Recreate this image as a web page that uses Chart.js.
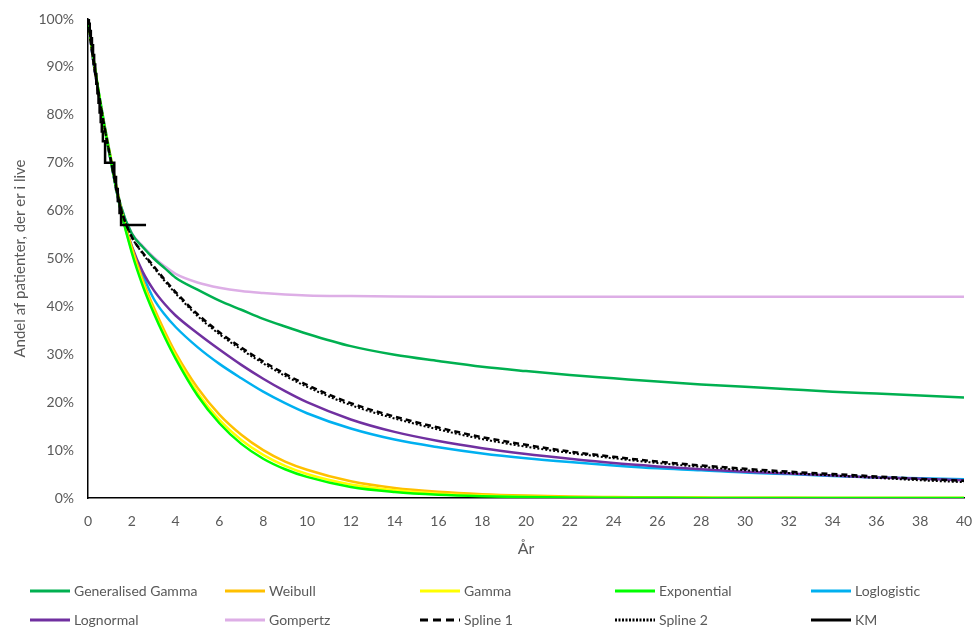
<!DOCTYPE html>
<html><head><meta charset="utf-8">
<script src="https://cdn.jsdelivr.net/npm/chart.js@4/dist/chart.umd.min.js"></script>
<style>
html,body{margin:0;padding:0;background:#fff;}
#wrap{position:relative;width:976px;height:630px;overflow:hidden;}
#c{position:absolute;left:0;top:0;}
.lgi{position:absolute;height:20px;font-family:Lato,'Open Sans',sans-serif;font-size:14px;color:#595959;white-space:nowrap;}
.lgi svg{position:absolute;left:0;top:0;}
.lgi span{position:absolute;top:1px;line-height:18px;}
</style></head><body>
<div id="wrap"><canvas id="c" width="976" height="630"></canvas><div id="legend"></div></div>
<script>
// ---- Data ----
const years = [0,0.25,0.5,0.75,1,1.5,2,2.5,3,3.5,4,5,6,7,8,9,10,12,14,16,18,20,22,24,26,28,30,32,34,36,38,40];
const genGamma    = [100,91.5,84.5,78,72,61,55.2,52.4,50,48,46,43.5,41.2,39.3,37.4,35.8,34.3,31.7,29.9,28.6,27.4,26.5,25.7,25.0,24.3,23.7,23.2,22.7,22.2,21.8,21.4,21.0];
const weibull     = [100,91.5,84,77.5,71.8,60.5,52.3,45.5,39.8,34.8,30.3,23.0,17.4,13.2,10.0,7.6,5.9,3.5,2.1,1.3,0.8,0.5,0.3,0.2,0.12,0.08,0.05,0.03,0.02,0.01,0.01,0.0];
const gamma       = [100,91.7,84.2,77.5,71.7,60.2,51.6,44.8,39.0,34.0,29.6,22.0,16.3,12.1,9.0,6.7,5.0,2.8,1.6,0.9,0.5,0.28,0.16,0.1,0.05,0.03,0.02,0.01,0.01,0,0,0];
const exponential = [100,91.8,84.3,77.5,71.5,60,51.2,44.3,38.6,33.6,29.1,21.4,15.6,11.3,8.2,6.0,4.4,2.3,1.25,0.67,0.36,0.19,0.1,0.05,0.03,0.02,0.01,0,0,0,0,0];
const loglogistic = [100,91,84,77.5,71.3,60,52.3,46.5,41.6,38.3,35.7,31.5,28.0,25.0,22.2,19.8,17.7,14.5,12.2,10.6,9.3,8.3,7.5,6.8,6.2,5.8,5.3,5.0,4.6,4.3,4.1,3.9];
const lognormal   = [100,91,84,77.5,71.3,60,52.6,47.2,43.4,40.5,38.1,34.4,31.0,27.8,24.9,22.3,20.0,16.4,13.8,11.9,10.4,9.2,8.2,7.3,6.6,6.0,5.5,5.1,4.7,4.3,4.0,3.7];
const gompertz    = [100,91,84,77.5,71.5,61,55.3,52.6,50.3,48.4,46.8,45.0,43.9,43.2,42.8,42.5,42.3,42.15,42.05,42,42,42,42,42,42,42,42,42,42,42,42,42];
const spline1     = [100,91,84,77.5,71.5,60.5,54.5,51.2,48.4,45.6,43.0,38.4,34.6,31.4,28.5,25.9,23.6,19.8,17.0,14.7,12.7,11.1,9.7,8.6,7.6,6.8,6.1,5.5,5.0,4.5,4.0,3.6];
const spline2     = [100,91,84,77.5,71.5,60.5,54.5,51.0,48.1,45.3,42.7,38.0,34.2,31.0,28.1,25.5,23.2,19.4,16.6,14.3,12.3,10.7,9.4,8.3,7.3,6.5,5.8,5.2,4.7,4.2,3.7,3.3];
const kmTime = [0,0.04,0.08,0.13,0.18,0.23,0.28,0.33,0.38,0.43,0.48,0.53,0.58,0.63,0.68,0.78,1.2,1.28,1.36,1.44,1.51,2.65];
const kmSurv = [100,99,97.5,96,94.5,92.5,90.5,88.5,86.5,84.5,82.5,80.5,78.5,76.5,74.5,70,67,64.5,62,59.5,57,57];
const seriesNames = ['Generalised Gamma','Weibull','Gamma','Exponential','Loglogistic','Lognormal','Gompertz','Spline 1','Spline 2','KM'];
const xTicks = [0,2,4,6,8,10,12,14,16,18,20,22,24,26,28,30,32,34,36,38,40];
const yTicks = [0,10,20,30,40,50,60,70,80,90,100];

// ---- Styles ----
const seriesValues = [genGamma,weibull,gamma,exponential,loglogistic,lognormal,gompertz,spline1,spline2];
const colors = ['#00B050','#FFC000','#FFFF00','#00FF00','#00B0F0','#7030A0','#DDAEE6','#000000','#000000','#000000'];
const dashes = [[],[],[],[],[],[],[],[6,4],[2,2],[]];
const widths = [2.5,2.5,2.5,2.5,2.5,2.5,2.5,2.5,2,2.5];
const orders = [8,6,5,4,7,6,9,2,1,0];
const FONT = "Lato, 'Open Sans', sans-serif";

const datasets = seriesValues.map((vals,i)=>({
  label: seriesNames[i],
  data: years.map((x,j)=>({x:x,y:vals[j]})),
  borderColor: colors[i], backgroundColor: colors[i],
  borderWidth: widths[i], borderDash: dashes[i],
  pointRadius: 0, cubicInterpolationMode:'monotone', fill:false, order: orders[i]
}));
datasets.push({
  label: seriesNames[9],
  data: kmTime.map((x,j)=>({x:x,y:kmSurv[j]})),
  borderColor: colors[9], borderWidth: widths[9], pointRadius:0, stepped:true, fill:false, order: orders[9]
});

new Chart(document.getElementById('c'), {
  type:'line',
  data:{datasets},
  options:{
    responsive:false, animation:false,
    layout:{padding:{top:19,right:12,bottom:60,left:0}},
    plugins:{legend:{display:false}, tooltip:{enabled:false}},
    scales:{
      x:{type:'linear', min:0, max:40,
        afterBuildTicks(s){ s.ticks = xTicks.map(v=>({value:v})); },
        ticks:{color:'#595959', font:{family:FONT,size:14}, padding:15, maxRotation:0, autoSkip:false},
        grid:{display:false, drawTicks:false},
        border:{display:true,color:'#000',width:1.5},
        title:{display:true,text:'År',color:'#595959',font:{family:FONT,size:16},padding:{top:0,bottom:12}},
        afterFit(s){ s.height = 72; s.paddingLeft = 0; s.paddingRight = 0; }
      },
      y:{min:0, max:100,
        afterBuildTicks(s){ s.ticks = yTicks.map(v=>({value:v})); },
        ticks:{color:'#595959', font:{family:FONT,size:14}, padding:14, callback:v=>v+'%'},
        grid:{display:false, drawTicks:false},
        border:{display:true,color:'#000',width:1.5},
        title:{display:true,text:'Andel af patienter, der er i live',color:'#595959',font:{family:FONT,size:15},padding:{top:11,bottom:0}},
        afterFit(s){ s.width = 88; s.paddingTop = 0; s.paddingBottom = 0; }
      }
    }
  }
});

// ---- HTML legend ----
const colX = [30,225,420,615,811];
const rowY = [581,610];
const lg = document.getElementById('legend');
seriesNames.forEach((name,i)=>{
  const r = Math.floor(i/5), c = i%5;
  const d = document.createElement('div');
  d.className='lgi';
  d.style.left = colX[c]+'px'; d.style.top = rowY[r]+'px';
  const dash = dashes[i].length ? (i===7 ? '8,5' : '2,1.5') : 'none';
  d.innerHTML = '<svg width="42" height="20"><line x1="0" y1="10" x2="40" y2="10" stroke="'+colors[i]+'" stroke-width="3" stroke-dasharray="'+dash+'"/></svg><span style="left:44px">'+name+'</span>';
  lg.appendChild(d);
});
</script>
</body></html>
